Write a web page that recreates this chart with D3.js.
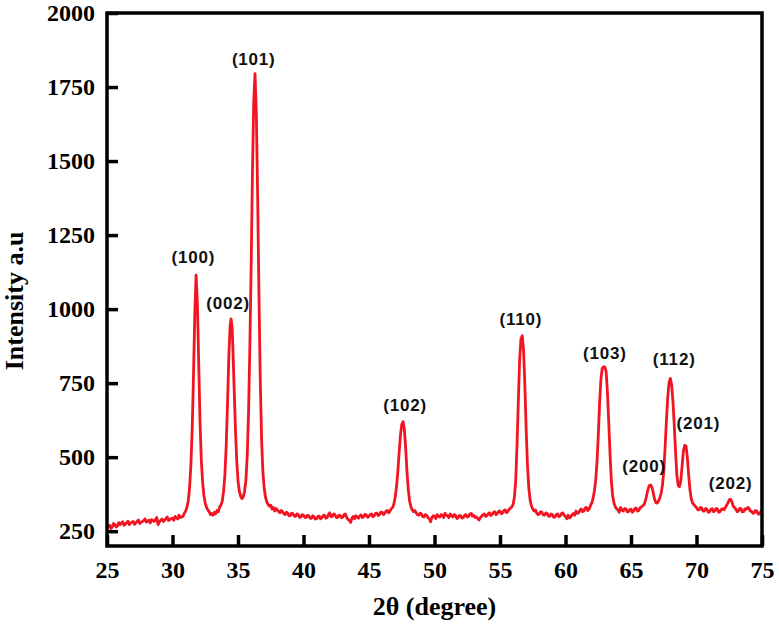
<!DOCTYPE html>
<html>
<head>
<meta charset="utf-8">
<script src="https://cdn.jsdelivr.net/npm/d3@7"></script>
<style>
  body { margin: 0; background: #fff; }
  .title { font-family: "Liberation Serif", "Times New Roman", serif; font-weight: bold; font-size: 26px; fill: #000; }
  .peak { font-family: "Liberation Sans", Arial, sans-serif; font-weight: bold; font-size: 17px; fill: #111; letter-spacing: 0.8px; }
</style>
</head>
<body>
<div id="chart"></div>
<script>
// XRD pattern: [2theta, intensity]
var pattern = [
  [25.0,258],[25.1,266],[25.2,270],[25.3,259],[25.4,264],[25.5,276],[25.6,272],[25.7,264],[25.8,268],[25.9,279],
  [26.0,272],[26.2,282],[26.3,270],[26.4,274],[26.6,284],[26.7,272],[26.8,278],[27.0,283],[27.1,273],[27.2,278],
  [27.4,288],[27.5,276],[27.6,280],[27.8,286],[27.9,292],[28.0,281],[28.2,287],[28.3,278],[28.4,289],[28.6,283],
  [28.8,296],[28.9,272],[29.0,282],[29.2,291],[29.3,283],[29.4,287],[29.6,298],[29.7,286],[29.8,290],[30.0,294],
  [30.1,287],[30.2,300],[30.4,291],[30.5,304],[30.6,296],[30.8,300],[30.9,310],
  [31.0,318],[31.1,330],[31.2,352],[31.3,395],[31.4,470],[31.5,590],[31.6,770],[31.7,980],[31.8,1115],[31.9,1020],
  [32.0,820],[32.1,620],[32.2,490],[32.3,415],[32.4,370],[32.5,345],[32.6,330],[32.7,322],[32.8,316],[32.9,306],
  [33.0,310],[33.1,304],[33.2,314],[33.3,309],[33.4,320],[33.5,316],[33.6,332],[33.7,338],[33.8,352],[33.9,385],
  [34.0,440],[34.1,540],[34.2,680],[34.3,840],[34.4,945],[34.47,967],
  [34.55,940],[34.6,880],[34.7,740],[34.8,600],[34.9,490],[35.0,420],[35.1,385],[35.2,368],[35.3,360],[35.4,366],
  [35.5,385],[35.6,420],[35.7,500],[35.8,640],[35.9,860],[36.0,1130],[36.1,1450],[36.2,1700],[36.3,1795],[36.4,1660],
  [36.5,1380],[36.6,1050],[36.7,760],[36.8,560],[36.9,450],[37.0,395],[37.1,365],[37.2,348],[37.3,340],[37.4,335],
  [37.5,338],[37.6,325],[37.7,330],[37.8,318],[37.9,327],[38.0,322],[38.1,316],[38.2,312],[38.3,320],[38.4,316],
  [38.5,309],[38.6,306],[38.7,314],[38.8,311],[38.9,302],[39.0,303],[39.1,311],[39.2,309],[39.3,301],[39.4,300],
  [39.5,308],[39.6,306],[39.7,297],[39.8,298],[39.9,306],[40.0,304],[40.1,297],[40.2,296],[40.3,304],[40.4,302],
  [40.5,294],[40.6,293],[40.7,302],[40.8,299],[40.9,291],[41.0,292],[41.1,300],[41.2,301],[41.3,292],[41.4,295],
  [41.5,303],[41.6,304],[41.7,294],[41.8,296],[41.9,306],[42.0,312],[42.1,299],[42.2,300],[42.3,308],[42.4,306],
  [42.5,297],[42.6,296],[42.7,304],[42.8,303],[42.9,295],[43.0,298],[43.1,306],[43.2,308],[43.3,296],[43.4,290],
  [43.5,286],[43.6,280],[43.7,294],[43.8,300],[43.9,292],[44.0,302],[44.1,298],[44.2,294],[44.3,302],[44.4,305],
  [44.5,296],[44.6,299],[44.7,307],[44.8,304],[44.9,297],[45.0,300],[45.1,306],[45.2,308],[45.3,299],[45.4,302],
  [45.5,310],[45.6,311],[45.7,303],[45.8,306],[45.9,314],[46.0,314],[46.1,306],[46.2,310],[46.3,318],[46.4,320],
  [46.5,312],[46.6,318],[46.7,326],[46.8,330],[46.9,342],[47.0,365],[47.1,400],[47.2,450],
  [47.3,515],[47.4,575],[47.5,610],[47.6,620],[47.7,595],[47.8,530],[47.9,450],[48.0,390],[48.1,352],[48.2,333],
  [48.3,322],[48.4,316],[48.5,320],[48.6,312],[48.7,306],[48.8,304],[48.9,311],[49.0,308],[49.1,299],[49.2,298],
  [49.3,306],[49.4,304],[49.5,296],[49.6,292],[49.7,282],[49.8,296],[49.9,302],
  [50.0,300],[50.1,293],[50.2,306],[50.3,301],[50.4,298],[50.5,306],[50.6,304],[50.7,296],[50.8,310],[50.9,304],
  [51.0,302],[51.1,296],[51.2,308],[51.3,303],[51.4,298],[51.5,306],[51.6,304],[51.7,293],[51.8,295],[51.9,303],
  [52.0,302],[52.1,294],[52.2,296],[52.3,304],[52.4,306],[52.5,298],[52.6,300],[52.7,308],[52.8,310],[52.9,301],
  [53.0,304],[53.1,296],[53.2,298],[53.3,292],[53.4,288],[53.5,296],[53.6,300],[53.7,306],[53.8,308],[53.9,300],
  [54.0,302],[54.1,309],[54.2,312],[54.3,303],[54.4,306],[54.5,314],[54.6,316],[54.7,306],[54.8,310],[54.9,318],
  [55.0,318],[55.1,309],[55.2,312],[55.3,320],[55.4,322],[55.5,313],[55.6,316],[55.7,324],[55.8,328],[55.9,332],
  [56.0,340],[56.1,365],[56.2,420],[56.3,540],[56.4,690],[56.5,830],[56.6,900],[56.7,910],[56.8,860],[56.9,740],
  [57.0,590],[57.1,470],[57.2,395],[57.3,355],[57.4,335],[57.5,325],[57.6,318],[57.7,322],[57.8,312],[57.9,306],
  [58.0,308],[58.1,316],[58.2,314],[58.3,305],[58.4,304],[58.5,312],[58.6,310],[58.7,301],[58.8,300],[58.9,308],
  [59.0,306],[59.1,297],[59.2,298],[59.3,306],[59.4,308],[59.5,299],[59.6,302],[59.7,310],[59.8,312],[59.9,303],
  [60.0,300],[60.1,292],[60.2,304],[60.3,295],[60.4,298],[60.5,306],[60.6,310],[60.7,304],[60.8,318],[60.9,310],
  [61.0,312],[61.1,320],[61.2,325],[61.3,316],[61.4,318],[61.5,328],[61.6,330],[61.7,320],[61.8,324],[61.9,336],
  [62.0,345],[62.1,360],[62.2,385],[62.3,420],[62.4,480],[62.5,570],[62.6,680],[62.7,760],[62.8,800],[62.9,805],
  [63.0,805],[63.1,790],[63.2,720],[63.3,620],[63.4,510],[63.5,420],[63.6,370],[63.7,345],[63.8,332],[63.9,326],
  [64.0,322],[64.1,314],[64.2,330],[64.3,322],[64.4,318],[64.5,326],[64.6,326],[64.7,316],[64.8,315],[64.9,323],
  [65.0,324],[65.1,314],[65.2,318],[65.3,327],[65.4,328],[65.5,318],[65.6,320],[65.7,330],[65.8,332],[65.9,336],
  [66.0,340],[66.1,352],[66.2,372],[66.3,392],[66.4,404],[66.5,406],[66.6,398],[66.7,380],[66.8,358],[66.9,346],
  [67.0,345],[67.1,352],[67.2,362],[67.3,378],[67.4,405],[67.5,450],[67.6,530],[67.7,620],[67.8,700],[67.9,750],
  [68.0,766],[68.1,745],[68.2,690],[68.3,610],[68.4,520],[68.5,440],[68.6,405],[68.7,400],[68.8,420],[68.9,470],
  [69.0,520],[69.1,540],[69.2,538],[69.3,500],[69.4,440],[69.5,390],[69.6,360],[69.7,345],[69.8,340],[69.9,334],
  [70.0,330],[70.1,322],[70.2,322],[70.3,330],[70.4,328],[70.5,318],[70.6,318],[70.7,327],[70.8,324],[70.9,314],
  [71.0,315],[71.1,324],[71.2,326],[71.3,316],[71.4,318],[71.5,327],[71.6,324],[71.7,314],[71.8,316],[71.9,324],
  [72.0,326],[72.1,322],[72.2,330],[72.3,338],[72.4,345],[72.5,356],[72.6,358],[72.7,350],[72.8,335],[72.9,330],
  [73.0,325],[73.1,316],[73.2,318],[73.3,327],[73.4,326],[73.5,315],[73.6,316],[73.7,325],[73.8,324],[73.9,330],
  [74.0,328],[74.1,318],[74.2,318],[74.3,310],[74.4,312],[74.5,320],[74.6,318],[74.7,308],[74.8,308],[74.9,316],
  [75.0,312]
];

// peak labels: hkl, label 2theta, label intensity (baseline)
var hkl      = ["(100)", "(002)", "(101)", "(102)", "(110)", "(103)", "(200)", "(112)", "(201)", "(202)"];
var hklTheta = [31.6, 34.25, 36.2, 47.75, 56.6, 63.0, 66.0, 68.3, 70.15, 72.6];
var hklInt   = [1155, 1000, 1825, 655, 945, 832, 450, 812, 596, 392];

var xTicks = [25, 30, 35, 40, 45, 50, 55, 60, 65, 70, 75];
var yTicks = [250, 500, 750, 1000, 1250, 1500, 1750, 2000];

var margin = {top: 13, right: 17, bottom: 80, left: 107},
    width = 779 - margin.left - margin.right,
    height = 626 - margin.top - margin.bottom;

var svg = d3.select("#chart")
  .append("svg")
    .attr("width", 779)
    .attr("height", 626)
  .append("g")
    .attr("transform", "translate(" + margin.left + "," + margin.top + ")");

var x = d3.scaleLinear().domain([25, 75]).range([0, width]);
var y = d3.scaleLinear().domain([200, 2000]).range([height, 0]);

// axes with inward ticks
var xAxis = svg.append("g")
  .attr("transform", "translate(0," + height + ")")
  .call(d3.axisBottom(x).tickValues(xTicks).tickFormat(d3.format("d"))
    .tickSizeInner(-11).tickSizeOuter(0).tickPadding(15));
var yAxis = svg.append("g")
  .call(d3.axisLeft(y).tickValues(yTicks).tickFormat(d3.format("d"))
    .tickSizeInner(-11).tickSizeOuter(0).tickPadding(12));

[xAxis, yAxis].forEach(function(a) {
  a.attr("font-family", "'Liberation Serif', 'Times New Roman', serif")
   .attr("font-size", 24)
   .attr("font-weight", "bold");
  a.select(".domain").remove();
  a.selectAll(".tick line").attr("stroke", "#000").attr("stroke-width", 3.5);
  a.selectAll(".tick text").attr("fill", "#000");
});

// the curve
svg.append("path")
  .datum(pattern)
  .attr("fill", "none")
  .attr("stroke", "#f21420")
  .attr("stroke-width", 2.8)
  .attr("stroke-linejoin", "round")
  .attr("d", d3.line()
    .x(function(d) { return x(d[0]); })
    .y(function(d) { return y(d[1]); }));

// frame
svg.append("rect")
  .attr("width", width)
  .attr("height", height)
  .attr("fill", "none")
  .attr("stroke", "#000")
  .attr("stroke-width", 3.5);

svg.selectAll(".peak")
  .data(hkl)
  .enter().append("text")
    .attr("class", "peak")
    .attr("text-anchor", "middle")
    .attr("x", function(d, i) { return x(hklTheta[i]); })
    .attr("y", function(d, i) { return y(hklInt[i]); })
    .text(function(d) { return d; });

svg.append("text")
  .attr("class", "title")
  .attr("text-anchor", "middle")
  .attr("transform", "translate(" + (width / 2) + "," + (height + 69) + ")")
  .text("2θ (degree)");

svg.append("text")
  .attr("class", "title")
  .attr("text-anchor", "middle")
  .attr("transform", "translate(" + -84 + "," + (288) + ")rotate(-90)")
  .text("Intensity a.u");
</script>
</body>
</html>
